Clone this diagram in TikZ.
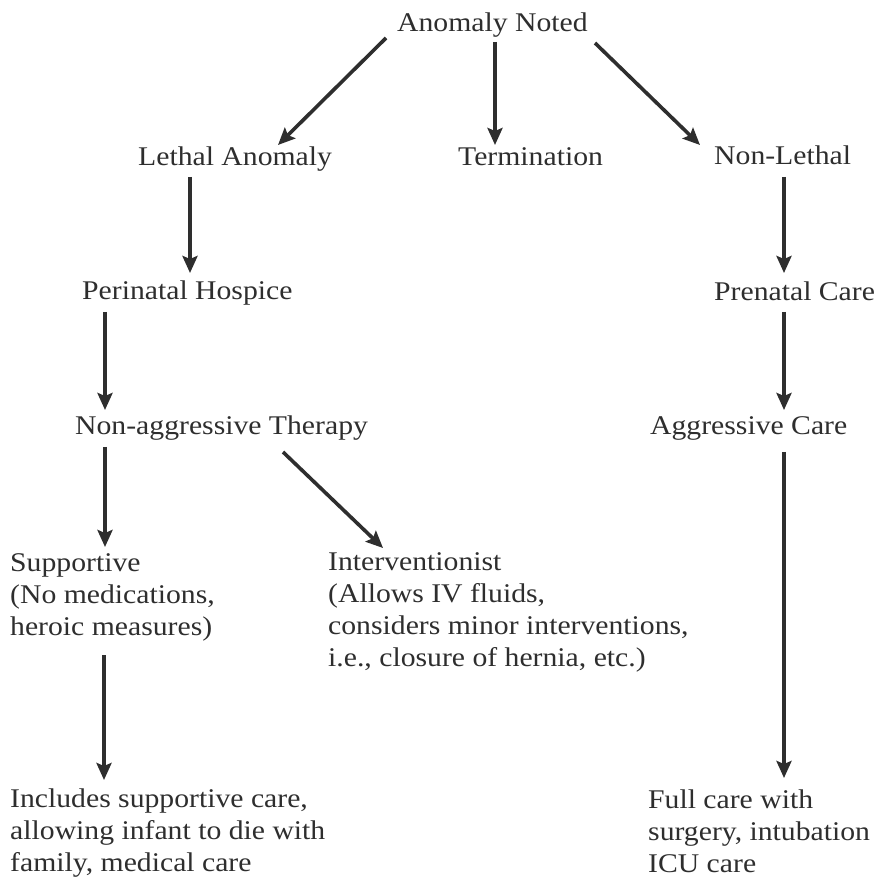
\documentclass[tikz,border=0pt]{standalone}
\usepackage{fontspec}
\setmainfont{Liberation Serif}[FakeStretch=1.1]
\usetikzlibrary{arrows.meta}
\definecolor{ink}{HTML}{2E2E2E}
\tikzset{
  lbl/.style={anchor=base west, inner sep=0pt, text=ink, font=\fontsize{27}{32}\selectfont},
  arr/.style={draw=ink, line width=3.6pt, -{Stealth[length=17pt,width=15pt,inset=3pt]}},
}
\newcommand{\lines}[1]{\begin{tabular}[t]{@{}l@{}}#1\end{tabular}}
\begin{document}
\begin{tikzpicture}[x=1pt,y=-1pt]
\fill[white] (0,0) rectangle (884,882);
\useasboundingbox (0,0) rectangle (884,882);
\node[lbl] (anom) at (397,32) {Anomaly Noted};
\node[lbl] (leth) at (138,166) {Lethal Anomaly};
\node[lbl] (term) at (458,166) {Termination};
\node[lbl] (nonl) at (714,165) {Non-Lethal};
\node[lbl] (peri) at (82,300) {Perinatal Hospice};
\node[lbl] (pren) at (714,301) {Prenatal Care};
\node[lbl] (nagg) at (75,435) {Non-aggressive Therapy};
\node[lbl] (aggr) at (650,435) {Aggressive Care};
\node[lbl] (supp) at (10,571) {\lines{Supportive\\(No medications,\\heroic measures)}};
\node[lbl] (intv) at (328,570) {\lines{Interventionist\\(Allows IV fluids,\\considers minor interventions,\\i.e., closure of hernia, etc.)}};
\node[lbl] (incl) at (10,807) {\lines{Includes supportive care,\\allowing infant to die with\\family, medical care}};
\node[lbl] (full) at (648,808) {\lines{Full care with\\surgery, intubation\\ICU care}};
\draw[arr] ([shift={(-11,6)}]anom.base west) -- ([shift={(140,-21)}]leth.base west);
\draw[arr] ([shift={(98,10)}]anom.base west) -- ([shift={(37,-21)}]term.base west);
\draw[arr] ([shift={(198,11)}]anom.base west) -- ([shift={(-14,-20)}]nonl.base west);
\draw[arr] ([shift={(52,11)}]leth.base west) -- ([shift={(108,-27)}]peri.base west);
\draw[arr] ([shift={(70,12)}]nonl.base west) -- ([shift={(70,-28)}]pren.base west);
\draw[arr] ([shift={(23,12)}]peri.base west) -- ([shift={(30,-25)}]nagg.base west);
\draw[arr] ([shift={(70,11)}]pren.base west) -- ([shift={(134,-25)}]aggr.base west);
\draw[arr] ([shift={(30,12)}]nagg.base west) -- ([shift={(95,-24)}]supp.base west);
\draw[arr] ([shift={(208,17)}]nagg.base west) -- ([shift={(55,-22)}]intv.base west);
\draw[arr] ([shift={(94,84)}]supp.base west) -- ([shift={(94,-27)}]incl.base west);
\draw[arr] ([shift={(134,17)}]aggr.base west) -- ([shift={(136,-30)}]full.base west);
\end{tikzpicture}
\end{document}
